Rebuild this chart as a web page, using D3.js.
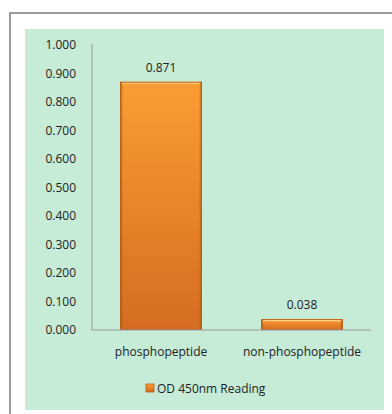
<!DOCTYPE html>
<html><head><meta charset="utf-8">
<script src="https://cdn.jsdelivr.net/npm/d3@7"></script>
<style>body{margin:0;background:#fff}svg{display:block}</style>
</head><body>
<script>
const categories = ["phosphopeptide", "non-phosphopeptide"];
const values = [0.871, 0.038];
const valueLabels = ["0.871", "0.038"];
const yTicks = [0, 0.1, 0.2, 0.3, 0.4, 0.5, 0.6, 0.7, 0.8, 0.9, 1.0];
const seriesName = "OD 450nm Reading";

const W = 392, H = 414;
const svg = d3.select("body").append("svg").attr("width", W).attr("height", H);
const defs = svg.append("defs");
const g1 = defs.append("linearGradient").attr("id","barV").attr("x1",0).attr("y1",0).attr("x2",0).attr("y2",1);
g1.append("stop").attr("offset","0%").attr("stop-color","#fb9d34");
g1.append("stop").attr("offset","100%").attr("stop-color","#d56c20");
const g2 = defs.append("linearGradient").attr("id","barH").attr("x1",0).attr("y1",0).attr("x2",1).attr("y2",0);
g2.append("stop").attr("offset","0%").attr("stop-color","#8a4a10").attr("stop-opacity",0.55);
g2.append("stop").attr("offset","4%").attr("stop-color","#8a4a10").attr("stop-opacity",0);
g2.append("stop").attr("offset","96%").attr("stop-color","#8a4a10").attr("stop-opacity",0);
g2.append("stop").attr("offset","100%").attr("stop-color","#8a4a10").attr("stop-opacity",0.55);

// outer frame
svg.append("path").attr("d","M10,414 L10,13 L392,13").attr("fill","none").attr("stroke","#9a9a9a").attr("stroke-width",2);
// panel
svg.append("rect").attr("x",25).attr("y",29).attr("width",359).attr("height",381).attr("fill","#c6ebd7");

const x = d3.scaleBand().domain(categories).range([92, 371]).paddingInner(0.42).paddingOuter(0.2);
const y = d3.scaleLinear().domain([0, 1]).range([330, 45]);

const font = "'Open Sans', 'Liberation Sans', sans-serif";
const fs = 12;

// y axis
const yAxis = svg.append("g").attr("transform","translate(92,0)")
  .call(d3.axisLeft(y).tickValues(yTicks).tickFormat(d3.format(".3f")).tickSize(0).tickPadding(16));
yAxis.select(".domain").attr("stroke","#9a9a9a").attr("d","M0,44V330");
yAxis.selectAll("text").attr("font-family",font).attr("font-size",fs).attr("fill","#222");

// bars
const bars = svg.append("g");
categories.forEach((c,i)=>{
  const bx = x(c), bw = x.bandwidth(), by = y(values[i]), bh = y(0)-y(values[i]);
  bars.append("rect").attr("x",bx).attr("y",by).attr("width",bw).attr("height",bh).attr("fill","url(#barV)");
  bars.append("rect").attr("x",bx).attr("y",by).attr("width",bw).attr("height",bh).attr("fill","url(#barH)");
  bars.append("rect").attr("x",bx+0.5).attr("y",by+0.5).attr("width",bw-1).attr("height",Math.max(0,bh-1))
    .attr("fill","none").attr("stroke","#b85d18").attr("stroke-width",1);
  bars.append("line").attr("x1",bx+2).attr("x2",bx+bw-2).attr("y1",by+1.5).attr("y2",by+1.5)
    .attr("stroke","#ffd08a").attr("stroke-width",1.2);
  svg.append("text").attr("x",bx+bw/2).attr("y",by-10).attr("text-anchor","middle")
    .attr("font-family",font).attr("font-size",fs).attr("fill","#222").text(valueLabels[i]);
});

// x axis
const xAxis = svg.append("g").attr("transform","translate(0,330)")
  .call(d3.axisBottom(x).tickSize(0).tickPadding(17));
xAxis.select(".domain").attr("stroke","#9a9a9a").attr("d","M92,0H371");
xAxis.selectAll("text").attr("font-family",font).attr("font-size",fs).attr("fill","#222");

// legend
const lg = svg.append("g").attr("transform","translate(146,384)");
lg.append("rect").attr("width",8).attr("height",8).attr("fill","url(#barV)").attr("stroke","#b85d18").attr("stroke-width",0.8);
lg.append("text").attr("x",11).attr("y",8.5).attr("font-family",font).attr("font-size",fs).attr("fill","#222").text(seriesName);
</script>
</body></html>
